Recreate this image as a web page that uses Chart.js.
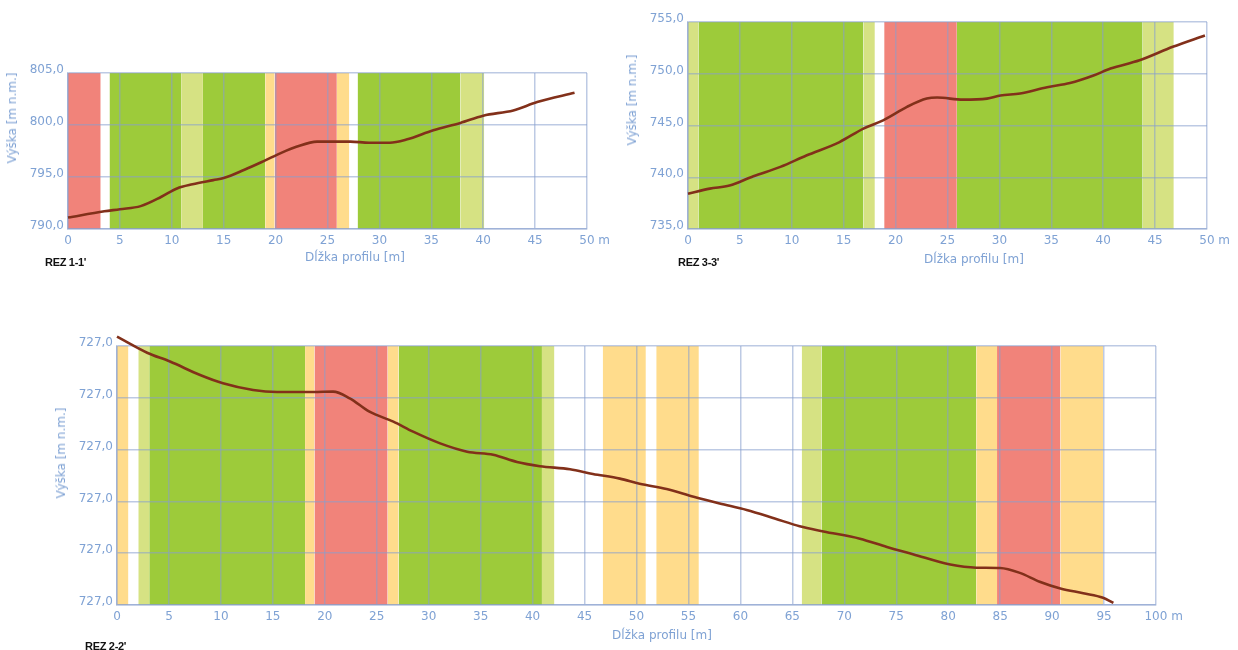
<!DOCTYPE html>
<html>
<head>
<meta charset="utf-8">
<script src="https://cdn.jsdelivr.net/npm/chart.js@4.4.1/dist/chart.umd.min.js"></script>
<style>
  html, body { margin:0; padding:0; background:#fff; }
  #wrap { position:relative; width:1238px; height:650px; overflow:hidden; background:#fff; }
  canvas { position:absolute; left:0; top:0; }
  .t { position:absolute; white-space:nowrap; font-family:"DejaVu Sans", sans-serif; font-size:12px; color:#7fa2d4; z-index:5; line-height:1; }
  .rot { transform:translate(-50%,-50%) rotate(-90deg); }
  .ctr { transform:translate(-50%,-50%); }
  .rez { position:absolute; white-space:nowrap; font-family:"Liberation Sans", Arial, sans-serif; font-weight:bold; font-size:11px; color:#111; z-index:5; line-height:1; transform:translateY(-50%); letter-spacing:-0.3px; }
</style>
</head>
<body>
<div id="wrap">
  <canvas id="c1" width="1238" height="650"></canvas>
  <canvas id="c2" width="1238" height="650"></canvas>
  <canvas id="c3" width="1238" height="650"></canvas>
  <div class="t rot" style="left:12px;top:118px;">Výška [m n.m.]</div>
  <div class="t ctr" style="left:355px;top:257px;">Dĺžka profilu [m]</div>
  <div class="rez" style="left:45px;top:262px;">REZ 1-1'</div>
  <div class="t rot" style="left:632px;top:100px;">Výška [m n.m.]</div>
  <div class="t ctr" style="left:974px;top:259px;">Dĺžka profilu [m]</div>
  <div class="rez" style="left:678px;top:262px;">REZ 3-3'</div>
  <div class="t rot" style="left:61px;top:453px;">Výška [m n.m.]</div>
  <div class="t ctr" style="left:662px;top:635px;">Dĺžka profilu [m]</div>
  <div class="rez" style="left:85px;top:646px;">REZ 2-2'</div>
</div>
<script>
// ---------- DATA ----------
// REZ 1-1'
const dist1 = [0,3.5,5,7,9,10.5,12,14,15,17,19,20.5,22,24,25,27.2,29,31,32.6,35.2,37.8,40,42.9,45.2,48.8];
const elev1 = [791.1,791.7,791.9,792.2,793.1,793.9,794.3,794.7,794.9,795.7,796.6,797.3,797.9,798.4,798.4,798.4,798.3,798.3,798.6,799.5,800.2,800.9,801.4,802.2,803.1];
const bandStart1 = [0,4.0,10.9,13.0,19.0,19.9,25.9,27.9,37.8];
const bandEnd1   = [3.15,10.9,13.0,19.0,19.9,25.9,27.1,37.8,40.1];
const bandType1  = ['R','G','L','G','Y','R','Y','G','L'];
const xTickLabels1 = ['0','5','10','15','20','25','30','35','40','45','50 m'];
const yTickLabels1 = ['790,0','795,0','800,0','805,0'];

// REZ 3-3'
const dist2 = [0,2.1,4.0,6.3,8.9,11.4,14.6,16.9,18.8,21.1,23.0,24,26.5,28.8,30.1,32,34.6,36.8,39,40.7,43.5,46.7,49.8];
const elev2 = [738.4,738.9,739.2,740.1,741.0,742.1,743.4,744.7,745.5,746.8,747.6,747.7,747.5,747.6,747.9,748.1,748.7,749.1,749.8,750.5,751.3,752.6,753.7];
const bandStart2 = [0,1.0,16.9,18.9,25.9,43.8];
const bandEnd2   = [1.0,16.9,18.0,25.9,43.8,46.8];
const bandType2  = ['L','G','L','R','G','L'];
const xTickLabels2 = ['0','5','10','15','20','25','30','35','40','45','50 m'];
const yTickLabels2 = ['735,0','740,0','745,0','750,0','755,0'];

// REZ 2-2' (vertical axis in relative units, labels as printed)
const dist3 = [0,2.9,5.1,8.0,10.2,13.1,15.4,18.9,20.8,22.4,24.3,26.6,28.5,31.1,33.7,36.2,38.5,40.7,43.6,45.8,48.4,50.3,52.9,55.5,58.0,60.6,63.3,65.7,68,71.5,74.1,76.6,80.2,82.7,85.0,86.9,88.8,90.8,93,94.9,95.9];
const elev3 = [25.9,24.35,23.5,22.2,21.4,20.75,20.56,20.56,20.6,19.95,18.66,17.7,16.73,15.6,14.8,14.5,13.8,13.4,13.1,12.65,12.2,11.7,11.2,10.45,9.8,9.17,8.35,7.6,7.1,6.4,5.6,4.9,3.9,3.6,3.57,3.1,2.25,1.6,1.13,0.7,0.2];
const bandStart3 = [0,2.05,3.1,18.1,19.0,26.05,27.1,40.9,46.75,51.9,65.9,67.8,82.7,84.7,90.8];
const bandEnd3   = [1.1,3.1,18.1,19.0,26.05,27.1,40.9,42.1,50.9,56.0,67.8,82.7,84.7,90.8,94.9];
const bandType3  = ['Y','L','G','Y','R','Y','G','L','Y','Y','L','G','Y','R','Y'];
const xTickLabels3 = ['0','5','10','15','20','25','30','35','40','45','50','55','60','65','70','75','80','85','90','95','100 m'];
const yTickLabels3 = ['727,0','727,0','727,0','727,0','727,0','727,0'];

// ---------- STYLE ----------
const bandColors = { R:'#f1837a', G:'#9dcb3a', L:'#d6e283', Y:'#ffdc8c' };
const gridColor = 'rgba(135,158,205,0.55)';
const tickColor = '#7fa2d4';
const lineColor = '#82301a';
const tickFont = { family:'"DejaVu Sans", sans-serif', size:12 };

function makeChart(id, o) {
  const datasets = [];
  for (let i = 0; i < o.bs.length; i++) {
    datasets.push({
      type:'line',
      data:[{x:o.bs[i], y:o.ymax}, {x:o.be[i], y:o.ymax}],
      fill:'start',
      backgroundColor: bandColors[o.bt[i]],
      borderWidth:0,
      borderColor:'rgba(0,0,0,0)',
      pointRadius:0,
      tension:0
    });
  }
  datasets.push({
    type:'line',
    data:o.dist.map((d,i)=>({x:d, y:o.elev[i]})),
    borderColor: lineColor,
    borderWidth:2.6,
    pointRadius:0,
    fill:false,
    cubicInterpolationMode:'monotone',
    clip:false
  });
  new Chart(document.getElementById(id), {
    type:'line',
    data:{ datasets },
    options:{
      responsive:false,
      animation:false,
      devicePixelRatio:1,
      events:[],
      layout:{ padding:o.pad },
      plugins:{ legend:{display:false}, tooltip:{enabled:false}, filler:{drawTime:'beforeDraw'} },
      scales:{
        x:{
          type:'linear', min:0, max:o.xmax,
          afterFit:(a)=>{ a.height = 30; },
          grid:{ color:gridColor, lineWidth:1.5, drawTicks:false },
          border:{ color:gridColor, width:1.5 },
          ticks:{
            stepSize:5, autoSkip:false, maxRotation:0, padding:5,
            color:tickColor, font:tickFont,
            callback:(v, i)=>{ const s = o.xl[i]; return (i === o.xl.length-1) ? '    ' + s : s; }
          }
        },
        y:{
          type:'linear', min:o.ymin, max:o.ymax,
          afterFit:(a)=>{ a.width = 60; },
          grid:{ color:gridColor, lineWidth:1.5, drawTicks:false },
          border:{ color:gridColor, width:1.5 },
          ticks:{
            stepSize:5, autoSkip:false, padding:4, labelOffset:-3,
            color:tickColor, font:tickFont,
            callback:(v, i)=> o.yl[i]
          }
        }
      }
    }
  });
}

makeChart('c1', { dist:dist1, elev:elev1, bs:bandStart1, be:bandEnd1, bt:bandType1, xl:xTickLabels1, yl:yTickLabels1,
  xmax:50, ymin:790, ymax:805, pad:{left:8, top:73, right:651, bottom:391} });
makeChart('c2', { dist:dist2, elev:elev2, bs:bandStart2, be:bandEnd2, bt:bandType2, xl:xTickLabels2, yl:yTickLabels2,
  xmax:50, ymin:735, ymax:755, pad:{left:628, top:22, right:31, bottom:391} });
makeChart('c3', { dist:dist3, elev:elev3, bs:bandStart3, be:bandEnd3, bt:bandType3, xl:xTickLabels3, yl:yTickLabels3,
  xmax:100, ymin:0, ymax:25, pad:{left:57, top:346, right:82, bottom:15} });
</script>
</body>
</html>
